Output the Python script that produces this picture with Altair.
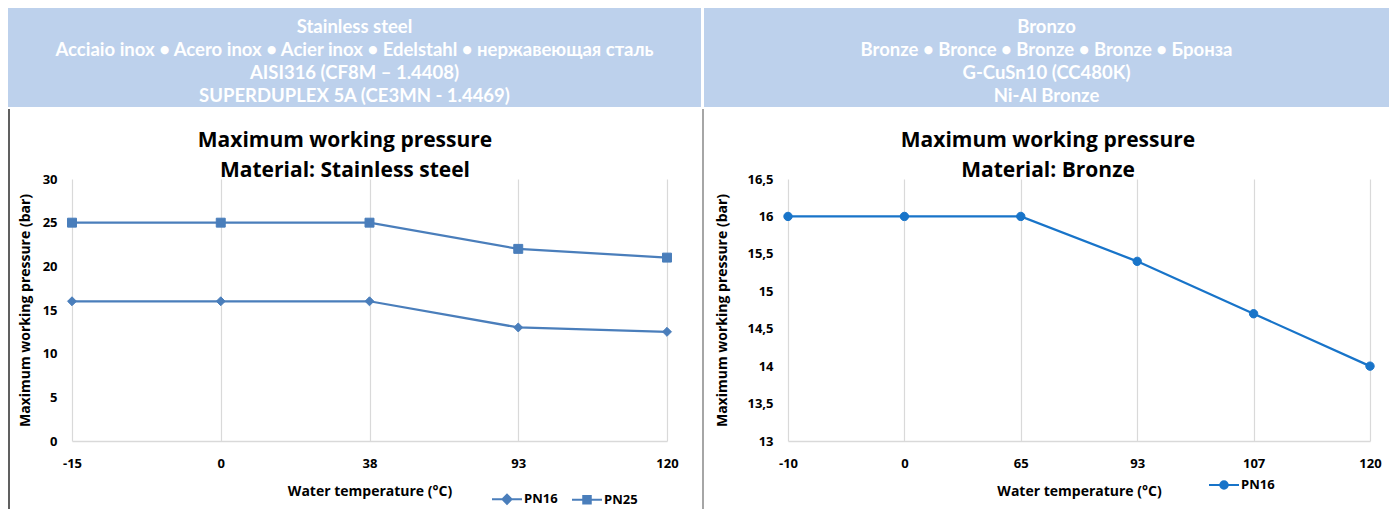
import altair as alt
import pandas as pd

# ---------------- data ----------------
left_temps = ["-15", "0", "38", "93", "120"]
left_series = ["PN16", "PN25"]
left_pn16 = [16, 16, 16, 13, 12.5]
left_pn25 = [25, 25, 25, 22, 21]

right_temps = ["-10", "0", "65", "93", "107", "120"]
right_series = ["PN16"]
right_pn16 = [16, 16, 16, 15.4, 14.7, 14]

left_y_ticks = [0, 5, 10, 15, 20, 25, 30]
right_y_ticks = [13, 13.5, 14, 14.5, 15, 15.5, 16, 16.5]

left_header = [
    "Stainless steel",
    "Acciaio inox • Acero inox • Acier inox • Edelstahl • нержавеющая сталь",
    "AISI316 (CF8M – 1.4408)",
    "SUPERDUPLEX 5A (CE3MN - 1.4469)",
]
right_header = [
    "Bronzo",
    "Bronze • Bronce • Bronze • Bronze • Бронза",
    "G-CuSn10 (CC480K)",
    "Ni-Al Bronze",
]
left_title = ["Maximum working pressure", "Material: Stainless steel"]
right_title = ["Maximum working pressure", "Material: Bronze"]

x_title = "Water temperature (°C)"
y_title = "Maximum working pressure (bar)"

HEADER_BG = "#BDD1EC"
LEFT_COLOR = "#4A7EBB"
RIGHT_COLOR = "#1874C9"
LABEL_FONT = "Open Sans"
HEADER_FONT = "Lato"

PLOT_H = 262


def one():
    return alt.Data(values=[{"k": 0}])


def make_panel(temps, series, values, y_domain, y_ticks, width, color,
               marker_shapes, marker_size, legend_paths, header_lines,
               hdr_x0, hdr_x1, title_lines, title_cx, leg_x, leg_y,
               ytitle_x, border_x, border_color, comma_labels):
    rows = []
    for s, vals in zip(series, values):
        for t, v in zip(temps, vals):
            rows.append({"temp": t, "pressure": v, "series": s})
    df = pd.DataFrame(rows)

    x = alt.X(
        "temp:O", sort=temps,
        scale=alt.Scale(type="point", padding=0),
        axis=alt.Axis(
            title=x_title, labelAngle=0, grid=True, gridColor="#d9d9d9",
            gridWidth=1.2, domainColor="#d9d9d9", domainWidth=1.5,
            ticks=False, labelPadding=16, labelFont=LABEL_FONT,
            labelFontSize=13, labelFontWeight="bold", labelColor="black",
            titleFont=LABEL_FONT, titleFontSize=14,
            titleFontWeight="bold", titleColor="black",
            titleBaseline="middle", titleY=50,
        ),
    )
    yaxis_kwargs = dict(
        title=y_title, values=y_ticks, grid=False, domain=False, ticks=False,
        labelPadding=15, labelFont=LABEL_FONT, labelFontSize=13,
        labelFontWeight="bold", labelColor="black",
        titleFont=LABEL_FONT, titleFontSize=14, titleFontWeight="bold",
        titleColor="black", titleX=ytitle_x, titleY=PLOT_H / 2,
        titleBaseline="middle", titleAlign="center",
    )
    if comma_labels:
        yaxis_kwargs["labelExpr"] = (
            "replace(format(datum.value, '.1~f'), '.', ',')")
    y = alt.Y("pressure:Q",
              scale=alt.Scale(domain=y_domain, nice=False, zero=False),
              axis=alt.Axis(**yaxis_kwargs))

    base = alt.Chart(df)
    layers = []

    # header band and texts
    layers.append(
        alt.Chart(one()).mark_rect(color=HEADER_BG).encode(
            x=alt.value(hdr_x0), x2=alt.value(hdr_x1),
            y=alt.value(-171), y2=alt.value(-72))
    )
    layers.append(
        alt.Chart(one()).mark_text(
            text=header_lines, color="white", font=HEADER_FONT, fontSize=18.5,
            fontWeight="bold", lineHeight=23, align="center",
            baseline="alphabetic").encode(
            x=alt.value((hdr_x0 + hdr_x1) / 2), y=alt.value(-146))
    )
    # borders below the header
    layers.append(
        alt.Chart(one()).mark_rule(color=border_color, strokeWidth=2).encode(
            x=alt.value(border_x), y=alt.value(-70), y2=alt.value(330))
    )
    # chart title
    layers.append(
        alt.Chart(one()).mark_text(
            text=title_lines, color="black", font=LABEL_FONT, fontSize=21,
            fontWeight="bold", lineHeight=30, align="center",
            baseline="alphabetic").encode(
            x=alt.value(title_cx), y=alt.value(-32))
    )

    # data lines
    layers.append(
        base.mark_line(color=color, strokeWidth=2.25).encode(
            x=x, y=y, detail="series:N")
    )
    for s, shp in zip(series, marker_shapes):
        layers.append(
            base.transform_filter(alt.datum.series == s).mark_point(
                shape=shp, filled=True, size=marker_size, color=color,
                opacity=1, stroke=color, strokeWidth=1).encode(x=x, y=y)
        )
    # legend (empty layer carrying the shape legend)
    layers.append(
        base.transform_filter("false").mark_point(
            filled=True, color=color, stroke=color, strokeWidth=2,
            size=900, opacity=1).encode(
            x=x, y=y,
            shape=alt.Shape(
                "series:N",
                scale=alt.Scale(domain=series, range=legend_paths),
                legend=alt.Legend(
                    title=None, orient="none", legendX=leg_x, legendY=leg_y,
                    direction="horizontal", symbolSize=900,
                    symbolStrokeWidth=2, labelFont=LABEL_FONT,
                    labelFontSize=13, labelFontWeight="bold",
                    labelColor="black", columnPadding=10, labelOffset=1),
            ),
        )
    )
    return alt.layer(*layers).properties(width=width, height=PLOT_H)


diamond_leg = "M-1,0H1M0,-0.3L0.3,0L0,0.3L-0.3,0Z"
square_leg = "M-1,0H1M-0.25,-0.25H0.25V0.25H-0.25Z"
circle_leg = ("M-1,0H1M0.25,0A0.25,0.25,0,0,1,-0.25,0"
              "A0.25,0.25,0,0,1,0.25,0Z")

left = make_panel(
    left_temps, left_series, [left_pn16, left_pn25], [0, 30], left_y_ticks,
    595, LEFT_COLOR, ["diamond", "square"], 80, [diamond_leg, square_leg],
    left_header, -64, 629, left_title, 273, 419, 304, -47, -63, "#606060",
    False)

right = make_panel(
    right_temps, right_series, [right_pn16], [13, 16.5], right_y_ticks,
    582, RIGHT_COLOR, ["circle"], 70, [circle_leg],
    right_header, -84, 601, right_title, 260, 420, 290, -66, -85, "#a6a6a6",
    True)

chart = alt.hconcat(left, right, spacing=1).resolve_scale(
    shape="independent", color="independent"
).resolve_legend(
    shape="independent", color="independent"
).properties(
    padding=0, background="white"
).configure_view(stroke=None)

chart.save("out.html", embed_options={"renderer": "svg", "actions": False})
